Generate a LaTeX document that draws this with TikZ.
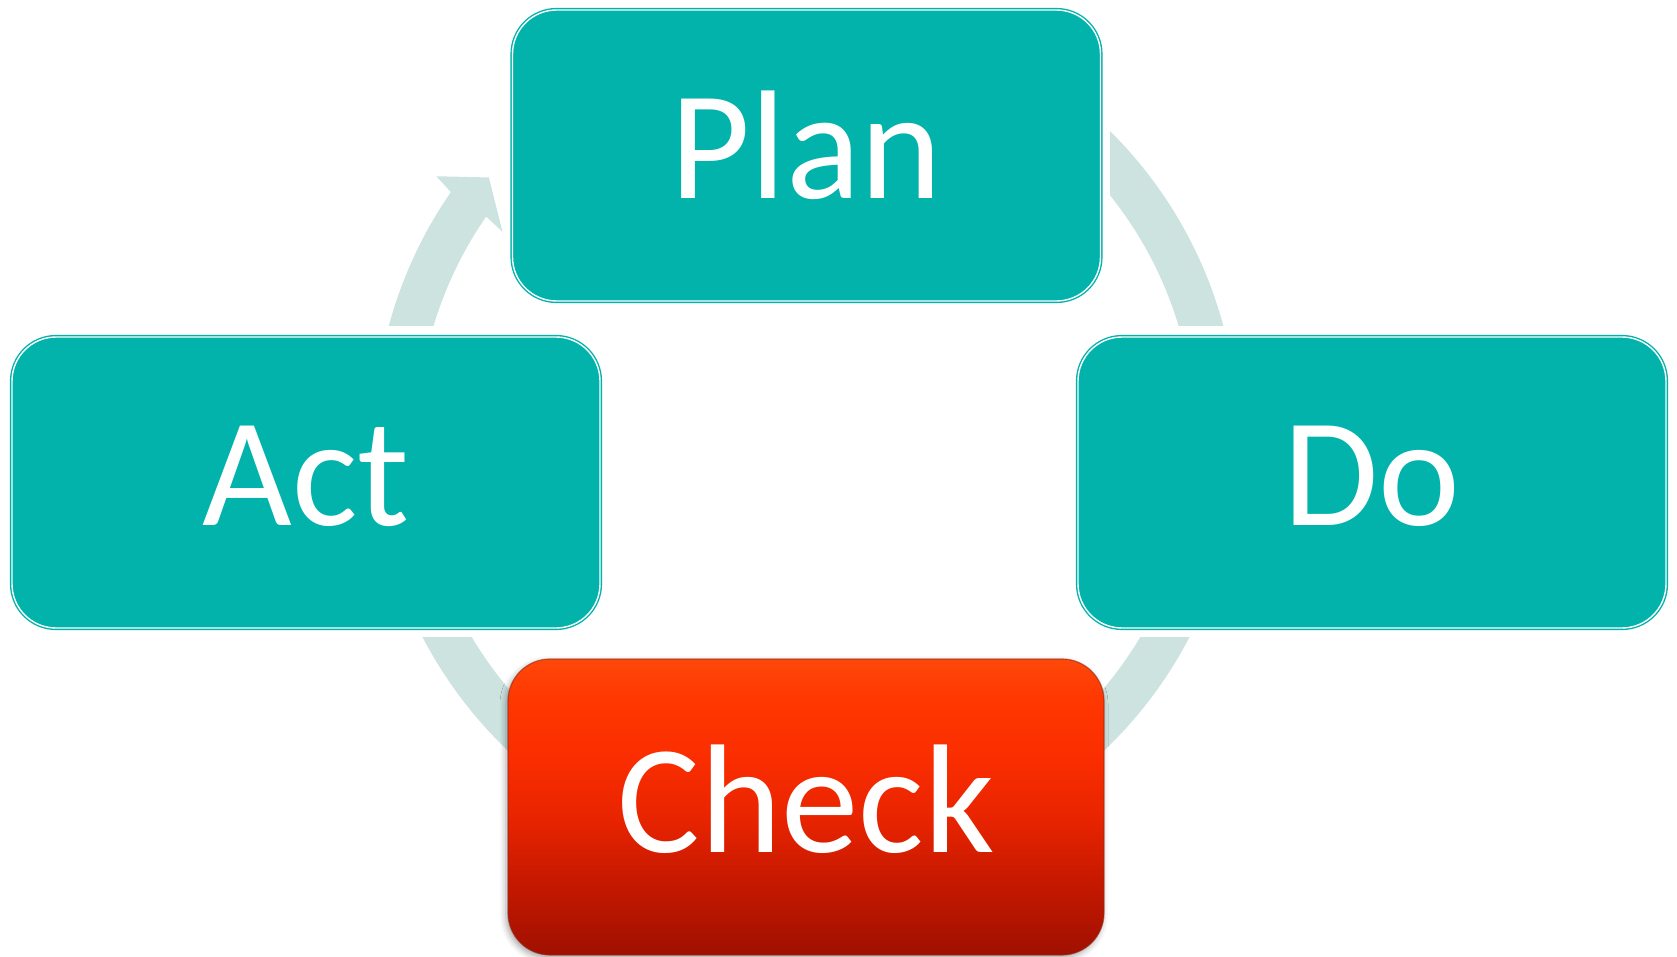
\documentclass[tikz,border=0pt]{standalone}
\usepackage{fontspec}
\setmainfont{Carlito}
\usetikzlibrary{shadows.blur}
\definecolor{teal1}{RGB}{2,179,172}
\definecolor{band}{RGB}{204,227,224}
\definecolor{chkedge}{RGB}{150,40,20}
\pgfdeclareverticalshading{chkshade}{100bp}{%
  rgb(0bp)=(0.627,0.063,0);
  rgb(25bp)=(0.627,0.063,0);
  rgb(38bp)=(0.784,0.098,0);
  rgb(48bp)=(0.910,0.141,0);
  rgb(58bp)=(0.980,0.176,0);
  rgb(68bp)=(1,0.216,0);
  rgb(75bp)=(1,0.282,0.04);
  rgb(100bp)=(1,0.282,0.04)}
\begin{document}
\begin{tikzpicture}[x=0.5pt,y=-0.5pt,
  box/.style={fill=teal1, draw=teal1, double=white, line width=0.7pt,
    double distance=0.7pt, rounded corners=22pt, inner sep=0pt, outer sep=0pt,
    minimum width=294pt, minimum height=145.5pt},
  chkbox/.style={shading=chkshade,
    draw=chkedge, draw opacity=0.6, line width=0.6pt, rounded corners=21pt,
    inner sep=0pt, outer sep=0pt, minimum width=298pt, minimum height=148pt,
    blur shadow={shadow xshift=-1pt, shadow yshift=-1.5pt, shadow blur radius=3pt, shadow opacity=35}},
  lbl/.style={anchor=base, text=white, font=\fontsize{77.5}{90}\selectfont, inner sep=0pt},
  cyc/.style={fill=band}]
\useasboundingbox (0,0) rectangle (1677,957);
\coordinate (C) at (806,438);

% Plan -> Do band
\begin{scope}
  \clip (1110,0) rectangle (1677,326);
  \fill[cyc, even odd rule] (C) circle (216pt) (C) circle (194.5pt);
\end{scope}
% Do -> Check and Check -> Act bands (lower half)
\begin{scope}
  \clip (0,637) rectangle (1677,957);
  \fill[cyc, even odd rule] (C) circle (216pt) (C) circle (194.5pt);
\end{scope}
% Act -> Plan band with arrowhead
\begin{scope}
  \clip (0,0) rectangle (806,326);
  \begin{scope}[shift={(C)}]
    \fill[cyc] plot[domain=-178:-145.3, samples=40] (\x:432)
      -- (-144.7:453) -- (-140.6:410.5) -- (-145.8:367)
      -- plot[domain=-145.3:-178, samples=40] (\x:389) -- cycle;
  \end{scope}
\end{scope}

% boxes
\node[box] (plan) at (806.5,155.5) {};
\node[box] (act) at (306,482.5) {};
\node[box] (do) at (1372,482.5) {};
\node[chkbox] (check) at (806,807) {};

% labels
\node[lbl] (plant) at (806.5,199) {Plan};
\node[lbl] (actt) at (306,525) {Act};
\node[lbl] (dot) at (1372,525) {Do};
\node[lbl] (checkt) at (806,852) {Check};
\end{tikzpicture}
\end{document}
